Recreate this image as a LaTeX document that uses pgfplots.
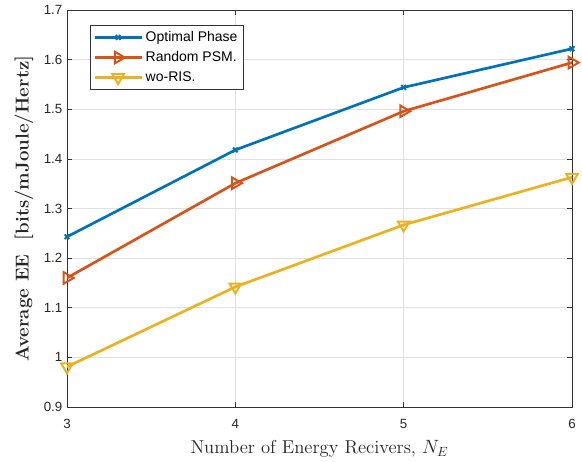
\documentclass[border=0pt]{standalone}
\usepackage{fontspec}
\usepackage{pgfplots}
\pgfplotsset{compat=1.18}
\newfontfamily\hv{Liberation Sans}
\definecolor{c1}{RGB}{0,114,189}
\definecolor{c2}{RGB}{217,83,25}
\definecolor{c3}{RGB}{237,177,32}
\begin{document}
\begin{tikzpicture}
\begin{axis}[
  scale only axis, width=378.75pt, height=297.75pt,
  xmin=3, xmax=6, ymin=0.9, ymax=1.7,
  xtick={3,4,5,6}, ytick={0.9,1.0,...,1.71},
  yticklabels={0.9,1,1.1,1.2,1.3,1.4,1.5,1.6,1.7},
  /pgf/number format/assume math mode=true,
  ticklabel style={font=\hv\fontsize{10}{12}\selectfont, text=black!85},
  xticklabel style={yshift=-5.5pt},
  tick align=inside, tick style={black!80, thin},
  major tick length=4pt,
  axis line style={black!80, thin},
  grid=major, grid style={black!12, thin},
  xlabel={Number of Energy Recivers, $N_E$},
  ylabel={\textbf{Average EE~~[bits/mJoule/Hertz]}},
  label style={font=\fontsize{14}{16}\selectfont, text=black!85},
  xlabel style={yshift=-2pt},
  ylabel style={yshift=1pt},
  legend style={at={(0.045,0.962)}, anchor=north west, font=\hv\fontsize{10.5}{12.5}\selectfont,
    draw=black!80, thin, inner sep=2.5pt, row sep=2pt, fill=white},
  legend cell align=left,
  legend image code/.code={%
    \draw[mark repeat=2,mark phase=2,#1] plot coordinates {(0cm,0cm) (0.62cm,0cm) (1.24cm,0cm)};},
]
\addplot[c1, line width=2pt, mark=x, mark size=2.5pt, mark options={line width=1.5pt}]
  coordinates {(3,1.243) (4,1.418) (5,1.544) (6,1.622)};
\addlegendentry{Optimal Phase}
\addplot[c2, line width=2pt, mark=triangle, mark size=5pt, mark options={rotate=-90, line width=1.5pt}]
  coordinates {(3,1.160) (4,1.351) (5,1.496) (6,1.594)};
\addlegendentry{Random PSM.}
\addplot[c3, line width=2pt, mark=triangle, mark size=5pt, mark options={rotate=180, line width=1.5pt}]
  coordinates {(3,0.981) (4,1.142) (5,1.267) (6,1.363)};
\addlegendentry{wo-RIS.}
\end{axis}
\path ([xshift=-50.25pt, yshift=-38.25pt]current axis.south west) rectangle ([xshift=7.5pt, yshift=7.5pt]current axis.north east);
\end{tikzpicture}
\end{document}
